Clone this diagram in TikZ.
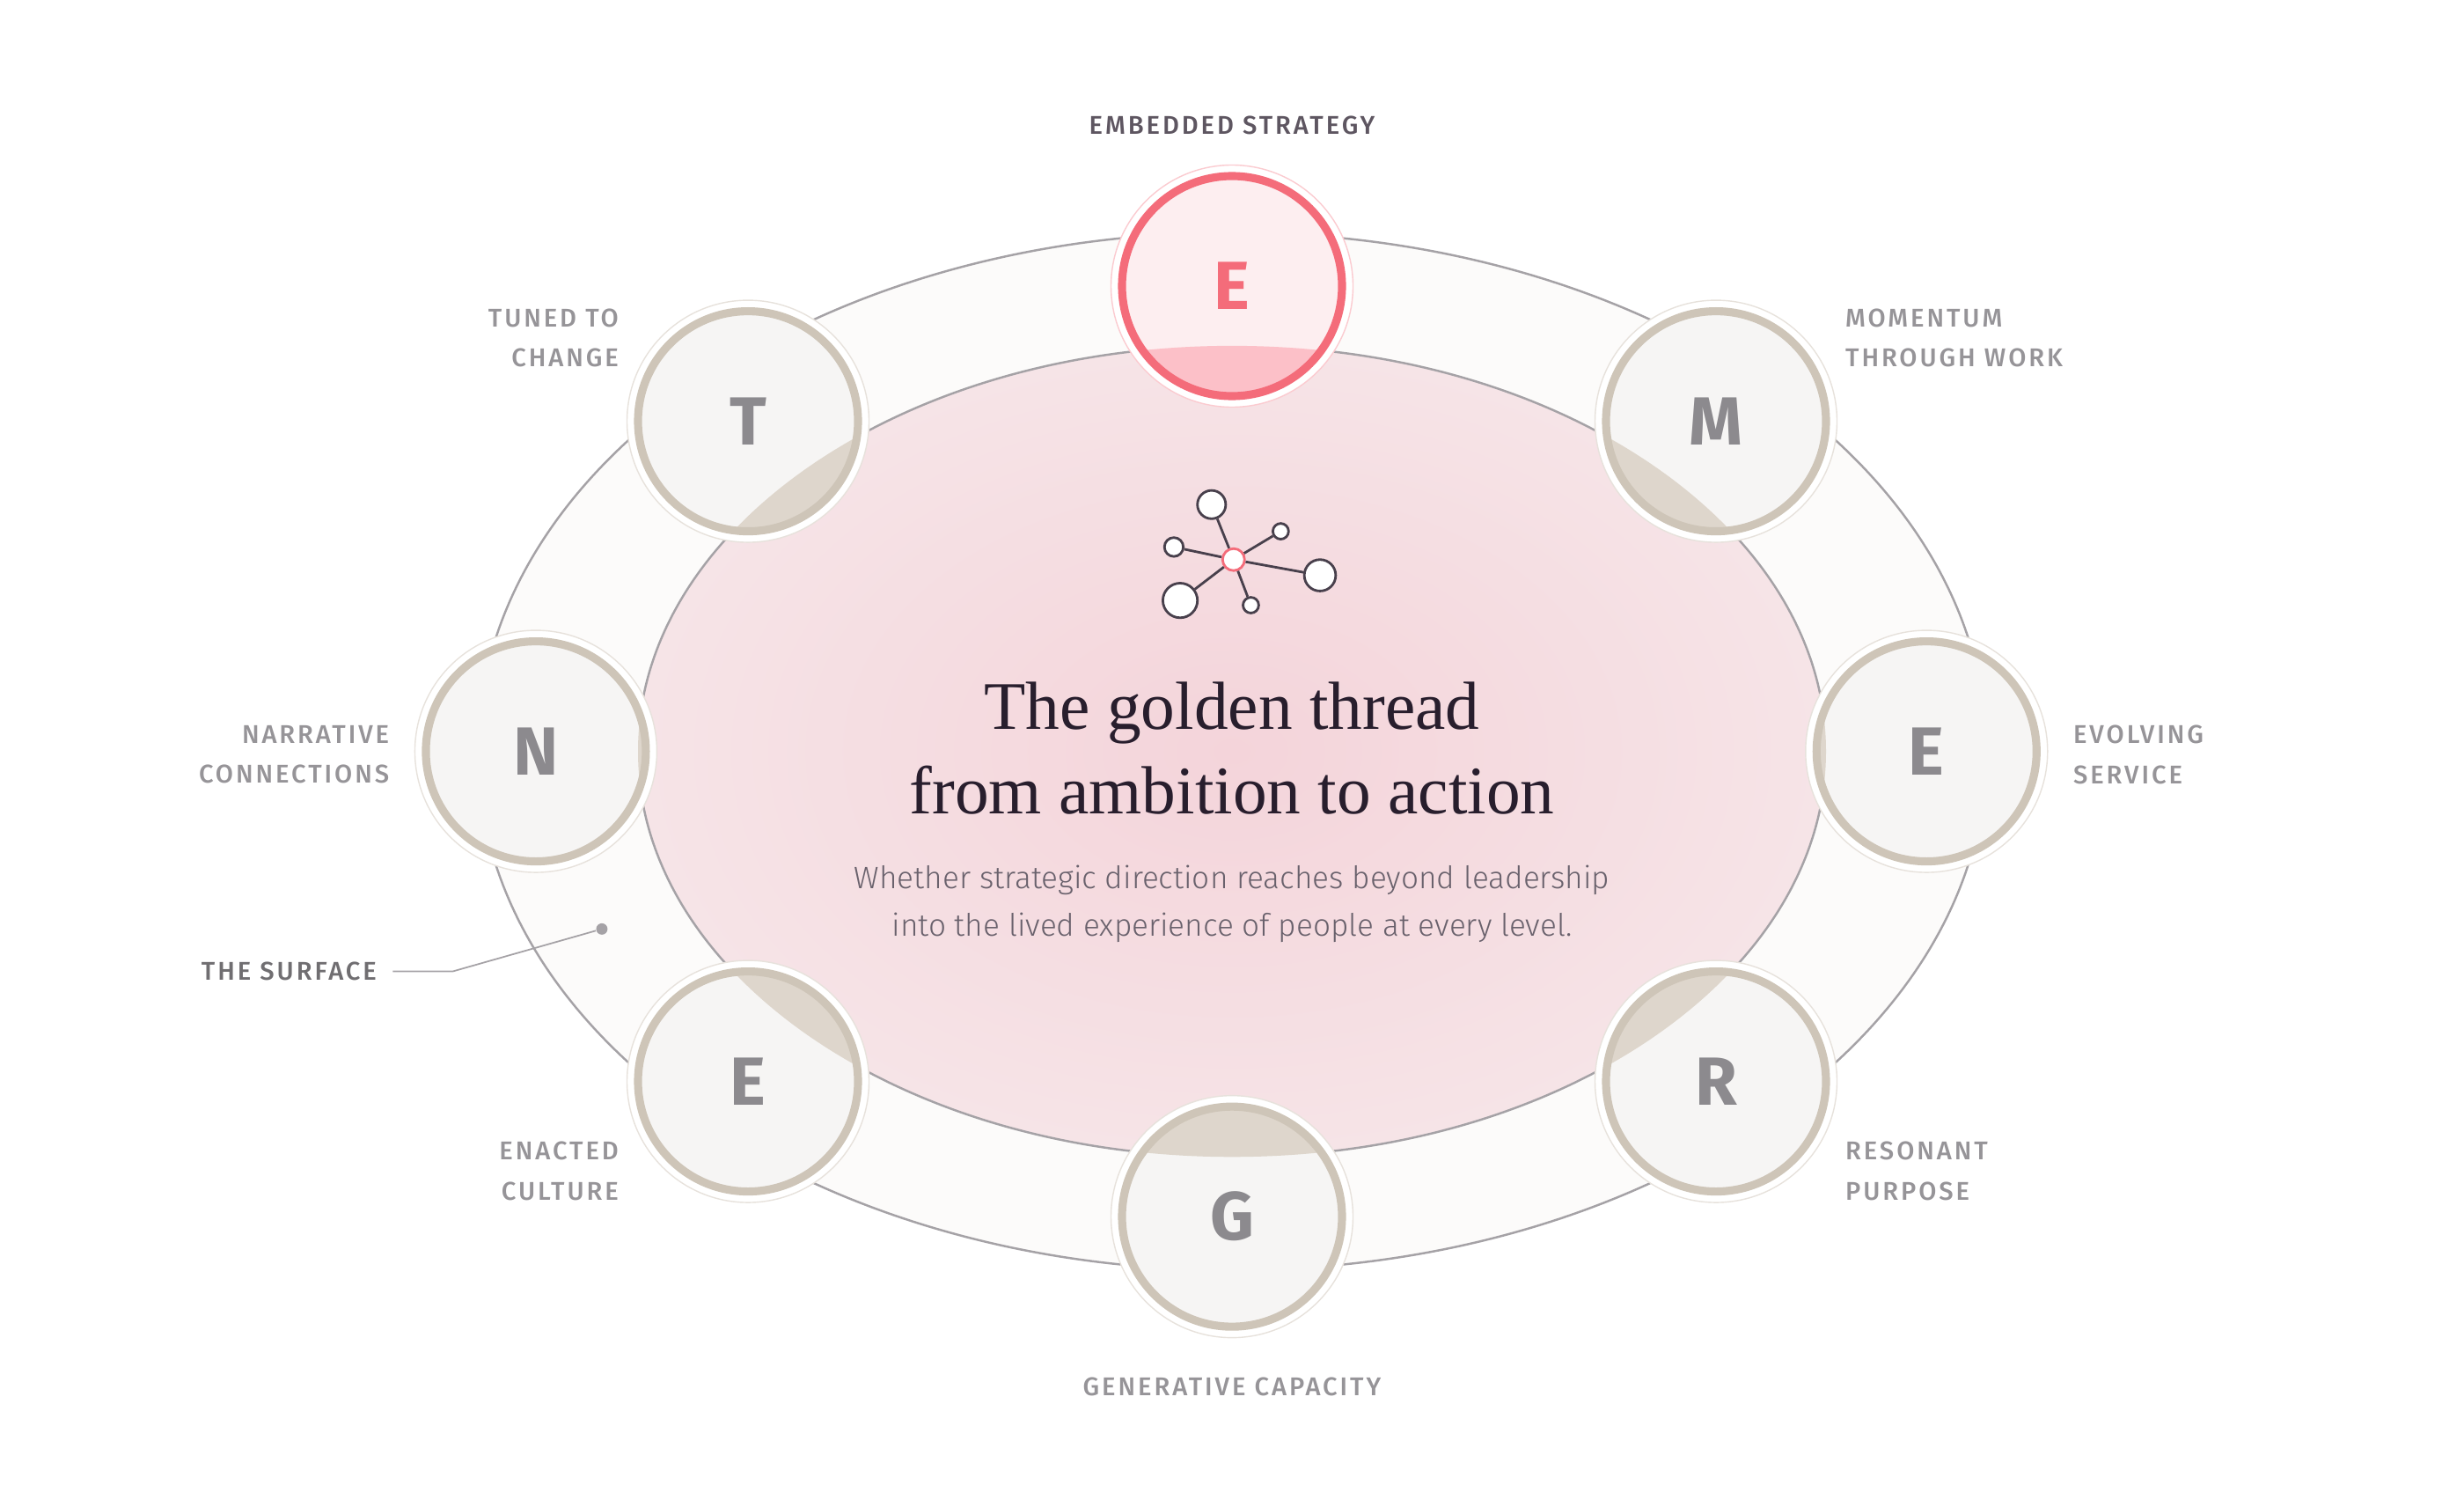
\documentclass[tikz,border=0pt]{standalone}
\usepackage{fontspec}
\setmainfont{Fira Sans}
\newfontfamily\labelfont[LetterSpace=10]{Fira Sans Medium}
\newfontfamily\subfont{Fira Sans Light}
\newfontfamily\titlefont{Liberation Serif}
\usetikzlibrary{positioning}
\definecolor{ringtan}{RGB}{206,197,184}
\definecolor{discfill}{RGB}{246,245,244}
\definecolor{overtan}{RGB}{222,214,204}
\definecolor{accent}{RGB}{244,108,122}
\definecolor{accentfill}{RGB}{253,238,240}
\definecolor{accentover}{RGB}{252,192,200}
\definecolor{bandfill}{RGB}{252,251,250}
\definecolor{fieldin}{RGB}{244,212,218}
\definecolor{fieldout}{RGB}{246,228,231}
\definecolor{labelg}{RGB}{150,148,152}
\definecolor{letterg}{RGB}{140,138,142}
\definecolor{ink}{RGB}{40,30,45}
\definecolor{edgeg}{RGB}{165,162,166}
\begin{document}
\begin{tikzpicture}[x=0.017857cm, y=-0.017857cm,
    lbl/.style={font=\labelfont\fontsize{8.3}{13}\selectfont, text=labelg, align=#1, inner sep=0pt},
    lbl/.default=center,
    letter/.style={font=\fontsize{22}{24}\selectfont\bfseries, text=letterg},
    dot/.style={circle, draw=ink!85, line width=0.8pt, fill=white, inner sep=0pt}]
  \useasboundingbox (0,0) rectangle (1568,958.7);
  % outer band and inner field
  \draw[edgeg, line width=0.7pt, fill=bandfill] (784,478) ellipse (480 and 330);
  \shade[inner color=fieldin, outer color=fieldout] (784,478) ellipse (378 and 258);
  \draw[edgeg, line width=0.7pt] (784,478) ellipse (378 and 258);
  % discs
  \foreach \name/\x/\y/\t in {t/476/268/T, m/1092/268/M, n/341/478/N, ev/1226/478/E,
      en/476/688/E, r/1092/688/R, g/784/774/G} {
    \draw[ringtan!50, line width=0.4pt, fill=white] (\x,\y) circle (77);
    \fill[discfill] (\x,\y) circle (70);
    \begin{scope}
      \clip (784,478) ellipse (378 and 258);
      \fill[overtan] (\x,\y) circle (70);
    \end{scope}
    \draw[ringtan, line width=2.6pt] (\x,\y) circle (70);
    \node[letter] (\name) at (\x,\y) {\t};
  }
  \draw[accent!35, line width=0.4pt, fill=white] (784,182) circle (77);
  \fill[accentfill] (784,182) circle (70);
  \begin{scope}
    \clip (784,478) ellipse (378 and 258);
    \fill[accentover] (784,182) circle (70);
  \end{scope}
  \draw[accent, line width=2.6pt] (784,182) circle (70);
  \node[letter, text=accent] (es) at (784,182) {E};
  % labels
  \node[lbl, text=ink!75] (les) at (784,80) {EMBEDDED STRATEGY};
  \node[lbl=right, anchor=east] (lt) at (394,215) {TUNED TO\\CHANGE};
  \node[lbl=left, anchor=west] (lm) at (1174,215) {MOMENTUM\\THROUGH WORK};
  \node[lbl=right, anchor=east] (ln) at (248,480) {NARRATIVE\\CONNECTIONS};
  \node[lbl=left, anchor=west] (lev) at (1319,480) {EVOLVING\\SERVICE};
  \node[lbl=right, anchor=east] (len) at (394,745) {ENACTED\\CULTURE};
  \node[lbl=left, anchor=west] (lr) at (1174,745) {RESONANT\\PURPOSE};
  \node[lbl] (lg) at (784,882) {GENERATIVE CAPACITY};
  \node[lbl, text=letterg!80!black, anchor=east] (ls) at (240,618) {THE SURFACE};
  \coordinate (sk) at (288,618);
  \node[circle, fill=edgeg, inner sep=1.3pt] (sp) at (383,591) {};
  \draw[edgeg, line width=0.5pt] (ls.east) ++(10,0) -- (sk) -- (sp);
  % network icon
  \node[dot, draw=accent, minimum size=14*0.017857cm] (hub) at (785,356) {};
  \foreach \name/\x/\y/\s in {a/771/321/18, b/815/338/10, c/747/348/12, d/840/366/20, e/751/382/22, f/796/385/10} {
    \node[dot, minimum size=\s*0.017857cm] (\name) at (\x,\y) {};
    \draw[ink!85, line width=0.8pt] (hub) -- (\name);
  }
  % title
  \node[font=\titlefont\fontsize{22}{27.5}\selectfont, text=ink, align=center] (title) at (784,476) {The golden thread\\from ambition to action};
  \node[font=\subfont\fontsize{10}{15.5}\selectfont, text=ink!70, align=center, below=18*0.017857cm of title] (sub) {Whether strategic direction reaches beyond leadership\\into the lived experience of people at every level.};
\end{tikzpicture}
\end{document}
